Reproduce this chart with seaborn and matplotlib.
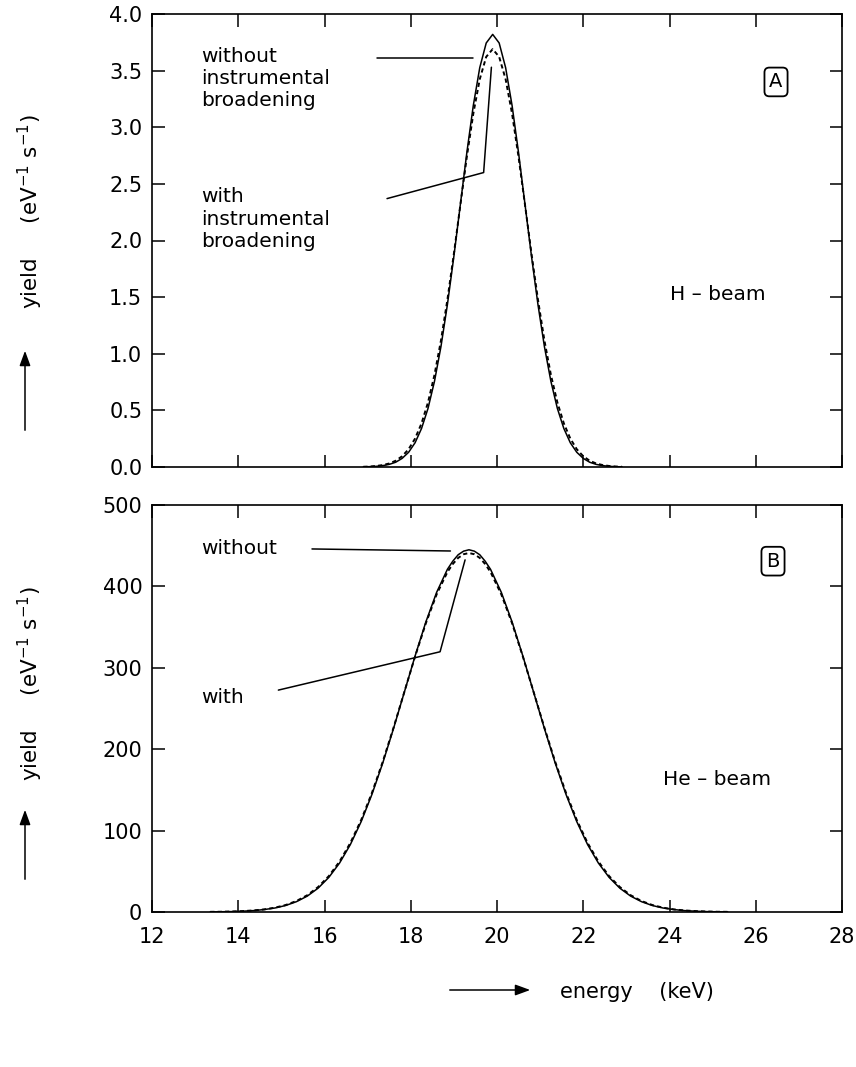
import matplotlib
matplotlib.use("Agg")

import matplotlib.pyplot as plt
import seaborn as sns


# H-beam panel (A): yield in eV^-1 s^-1 vs energy in keV
h_energy = [16.9, 17.05, 17.2, 17.35, 17.5, 17.65, 17.8, 17.95, 18.1, 18.25,
            18.4, 18.55, 18.7, 18.85, 19.0, 19.15, 19.3, 19.45, 19.6, 19.75,
            19.9, 20.05, 20.2, 20.35, 20.5, 20.65, 20.8, 20.95, 21.1, 21.25,
            21.4, 21.55, 21.7, 21.85, 22.0, 22.15, 22.3, 22.45, 22.6, 22.75, 22.9]
h_without = [0.001, 0.003, 0.006, 0.012, 0.023, 0.042, 0.076, 0.130, 0.214, 0.340,
             0.517, 0.756, 1.062, 1.434, 1.860, 2.317, 2.774, 3.191, 3.526, 3.744,
             3.820, 3.744, 3.526, 3.191, 2.774, 2.317, 1.860, 1.434, 1.062, 0.756,
             0.517, 0.340, 0.214, 0.130, 0.076, 0.042, 0.023, 0.012, 0.006, 0.003, 0.001]
h_with = [0.002, 0.004, 0.009, 0.017, 0.031, 0.055, 0.095, 0.157, 0.251, 0.385,
          0.570, 0.813, 1.116, 1.477, 1.883, 2.313, 2.737, 3.119, 3.424, 3.622,
          3.690, 3.622, 3.424, 3.119, 2.737, 2.313, 1.883, 1.477, 1.116, 0.813,
          0.570, 0.385, 0.251, 0.157, 0.095, 0.055, 0.031, 0.017, 0.009, 0.004, 0.002]

# He-beam panel (B)
he_energy = [13.35, 13.6, 13.85, 14.1, 14.35, 14.6, 14.85, 15.1, 15.35, 15.6,
             15.85, 16.1, 16.35, 16.6, 16.85, 17.1, 17.35, 17.6, 17.85, 18.1,
             18.35, 18.6, 18.85, 18.975, 19.1, 19.225, 19.35, 19.475, 19.6, 19.725,
             19.85, 20.1, 20.35, 20.6,
             20.85, 21.1, 21.35, 21.6, 21.85, 22.1, 22.35, 22.6, 22.85, 23.1,
             23.35, 23.6, 23.85, 24.1, 24.35, 24.6, 24.85, 25.1, 25.35]
he_without = [0.1, 0.3, 0.5, 1.0, 1.7, 3.0, 4.9, 8.0, 12.7, 19.5,
              29.2, 42.5, 60.2, 82.9, 111.0, 144.5, 182.9, 225.3, 269.9, 314.4,
              356.3, 392.7, 421.0, 431.0, 438.9, 443.3, 445.0, 443.3, 438.9, 431.0,
              421.0, 392.7, 356.3, 314.4,
              269.9, 225.3, 182.9, 144.5, 111.0, 82.9, 60.2, 42.5, 29.2, 19.5,
              12.7, 8.0, 4.9, 3.0, 1.7, 1.0, 0.5, 0.3, 0.1]
he_with = [0.2, 0.3, 0.6, 1.1, 1.9, 3.2, 5.3, 8.6, 13.5, 20.6,
           30.6, 44.1, 62.1, 84.9, 113.0, 146.4, 184.5, 226.3, 270.1, 313.8,
           354.7, 390.2, 417.6, 427.5, 435.0, 439.5, 441.0, 439.5, 435.0, 427.5,
           417.6, 390.2, 354.7, 313.8,
           270.1, 226.3, 184.5, 146.4, 113.0, 84.9, 62.1, 44.1, 30.6, 20.6,
           13.5, 8.6, 5.3, 3.2, 1.9, 1.1, 0.6, 0.3, 0.2]

x_ticks = [12, 14, 16, 18, 20, 22, 24, 26, 28]
h_yticks = [0.0, 0.5, 1.0, 1.5, 2.0, 2.5, 3.0, 3.5, 4.0]
he_yticks = [0, 100, 200, 300, 400, 500]

# leader lines for the curve labels (data coordinates)
h_lead_without = ([17.22, 19.45], [3.61, 3.61])
h_lead_with = ([17.45, 19.69, 19.87], [2.37, 2.60, 3.53])
he_lead_without = ([15.71, 18.92], [446.0, 443.5])
he_lead_with = ([14.93, 18.68, 19.26], [272.6, 319.7, 432.6])

W, H = 856, 1067
TXT = 14.5


def style_axes(ax, yticks, ylim):
    ax.set_xlim(12, 28)
    ax.set_ylim(*ylim)
    ax.set_xticks(x_ticks)
    ax.set_yticks(yticks)
    ax.tick_params(direction="in", length=9, width=1.1, top=True, right=True,
                   labelsize=15, pad=7, colors="black")
    for s in ax.spines.values():
        s.set_linewidth(1.2)
        s.set_color("black")
    ax.set_xlabel("")
    ax.set_ylabel("")


def arrow(p0, p1):
    fig.add_artist(matplotlib.patches.FancyArrowPatch(
        (p0[0] / W, 1 - p0[1] / H), (p1[0] / W, 1 - p1[1] / H),
        transform=fig.transFigure, arrowstyle="-|>,head_length=6,head_width=2.2",
        color="black", lw=1.1, mutation_scale=1.5))


def ylabel_block(y_center_px, arrow_top_px, arrow_bot_px):
    fig.text(30 / W, 1 - y_center_px / H, r"yield     (eV$^{-1}$ s$^{-1}$)",
             rotation=90, ha="center", va="center", fontsize=15.5)
    arrow((25, arrow_bot_px), (25, arrow_top_px))


sns.set_style("ticks")
plt.rcParams["font.family"] = ["DejaVu Sans"]
plt.rcParams["text.color"] = "black"

fig = plt.figure(figsize=(W / 100, H / 100), dpi=100)
ax1 = fig.add_axes([152 / W, 1 - 467 / H, 690 / W, 453 / H])
ax2 = fig.add_axes([152 / W, 1 - 912 / H, 690 / W, 407 / H])

# panel A
sns.lineplot(x=h_energy, y=h_without, ax=ax1, color="black", linewidth=1.1)
sns.lineplot(x=h_energy, y=h_with, ax=ax1, color="black", linewidth=1.4,
             linestyle=(0, (2.2, 1.6)))
style_axes(ax1, h_yticks, (0, 4.0))
ax1.set_yticklabels([f"{v:.1f}" for v in h_yticks])
ax1.set_xticklabels([])

ax1.plot(*h_lead_without, color="black", lw=1.1)
ax1.plot(*h_lead_with, color="black", lw=1.1)
ax1.text(13.15, 3.71, "without\ninstrumental\nbroadening", fontsize=TXT,
         va="top", ha="left", linespacing=1.22)
ax1.text(13.15, 2.47, "with\ninstrumental\nbroadening", fontsize=TXT,
         va="top", ha="left", linespacing=1.22)
ax1.text(24.0, 1.52, "H – beam", fontsize=TXT, va="center", ha="left")
ax1.text(26.47, 3.40, "A", fontsize=14, va="center", ha="center",
         bbox=dict(boxstyle="round,pad=0.25", fc="white", ec="black", lw=1.3))

# panel B
sns.lineplot(x=he_energy, y=he_without, ax=ax2, color="black", linewidth=1.1)
sns.lineplot(x=he_energy, y=he_with, ax=ax2, color="black", linewidth=1.4,
             linestyle=(0, (2.2, 1.6)))
style_axes(ax2, he_yticks, (0, 500))
ax2.set_xticklabels([str(v) for v in x_ticks])
ax2.tick_params(axis="x", pad=11)

ax2.plot(*he_lead_without, color="black", lw=1.1)
ax2.plot(*he_lead_with, color="black", lw=1.1)
ax2.text(13.15, 446, "without", fontsize=TXT, va="center", ha="left")
ax2.text(13.15, 264, "with", fontsize=TXT, va="center", ha="left")
ax2.text(23.85, 163, "He – beam", fontsize=TXT, va="center", ha="left")
ax2.text(26.4, 431, "B", fontsize=14, va="center", ha="center",
         bbox=dict(boxstyle="round,pad=0.25", fc="white", ec="black", lw=1.3))

# axis labels with arrows, drawn as in the original
ylabel_block(212, 348, 433)
ylabel_block(684, 807, 882)

arrow((447, 990), (533, 990))
fig.text(560 / W, 1 - 992 / H, "energy    (keV)", fontsize=15,
         ha="left", va="center")

fig.savefig("out.png", dpi=100)
plt.close(fig)
